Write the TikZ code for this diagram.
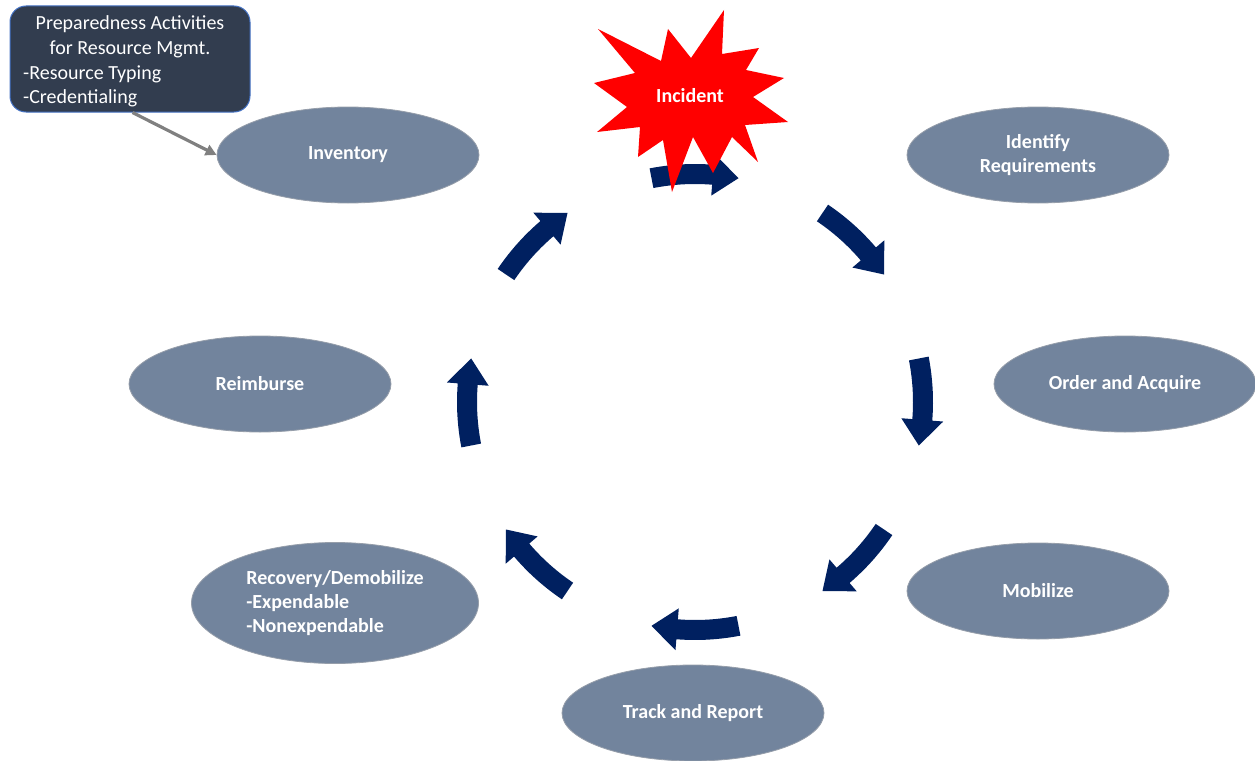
\documentclass[tikz,border=0pt]{standalone}
\usepackage{fontspec}
\setmainfont{Carlito}
\usetikzlibrary{shapes.geometric,arrows.meta}
\definecolor{ellfill}{RGB}{114,132,157}
\definecolor{ellline}{RGB}{150,158,170}
\definecolor{navy}{RGB}{0,32,96}
\definecolor{boxfill}{RGB}{50,61,79}
\definecolor{boxline}{RGB}{68,114,196}
\definecolor{grayarr}{RGB}{128,128,128}
\definecolor{starred}{RGB}{255,0,0}
\begin{document}
\begin{tikzpicture}[x=1pt,y=-1pt,
  ell/.style={ellipse, fill=ellfill, draw=ellline, line width=0.8pt,
    minimum width=262pt, minimum height=96pt, inner sep=0pt, text=white,
    font=\bfseries\fontsize{20}{24}\selectfont},
  boxtext/.style={text=white, font=\fontsize{20}{24}\selectfont, inner sep=0pt},
  cycarrow/.style={fill=navy, draw=none},
  prepbox/.style={draw=boxline, fill=boxfill, rounded corners=16pt,
    minimum width=240pt, minimum height=106pt, line width=1pt},
  feed/.style={draw=grayarr, line width=3.2pt, -{Triangle[length=11pt,width=11pt]}},
]
\useasboundingbox (0,0) rectangle (1255,760);

% ellipses
\node[ell] (inv) at (348,155) {Inventory};
\node[ell, align=center] (idr) at (1038,155) {Identify\\Requirements};
\node[ell] (ord) at (1125,384) {Order and Acquire};
\node[ell] (mob) at (1038,591) {Mobilize};
\node[ell] (trk) at (693,713) {Track and Report};
\node[ell, minimum width=287pt, minimum height=121pt, align=left] (rec) at (335,603) {Recovery/Demobilize\\-Expendable\\-Nonexpendable};
\node[ell] (rei) at (260,384) {Reimburse};

% cycle arrows
\begin{scope}[shift={(695,402)}]
\foreach \p in {-90,-45,0,45,90,135,180,225}{
  \pgfmathsetmacro\a{\p-11}
  \pgfmathsetmacro\b{\p+11}
  \pgfmathsetmacro\c{\p+11-6.5}
  \fill[cycarrow] plot[domain=\a:\c, samples=12] (\x:238) -- (\c:249) -- (\b:228) -- (\c:207)
     -- plot[domain=\c:\a, samples=12] (\x:218) -- cycle;
}
\end{scope}

% incident star
\fill[starred] (598,29) -- (661,61) -- (668,29) -- (691,58) -- (724,10) -- (722,54)
  -- (759,48) -- (746,70) -- (784,78) -- (753,97) -- (788,122) -- (745,125)
  -- (758,162) -- (732,137) -- (713,173) -- (693,137) -- (672,192) -- (663,140)
  -- (638,157) -- (640,127) -- (597,132) -- (627,107) -- (594,83) -- (635,73) -- cycle;
\node[text=white, font=\bfseries\fontsize{20}{24}\selectfont] (inc) at (690,96) {Incident};

% preparedness box
\node[prepbox] (box) at (130,59) {};
\node[boxtext] (bt1) at (130,24) {Preparedness Activities};
\node[boxtext] (bt2) at (130,49) {for Resource Mgmt.};
\node[boxtext, anchor=west] (bt3) at (23,74) {-Resource Typing};
\node[boxtext, anchor=west] (bt4) at (23,98) {-Credentialing};
\draw[feed] ([xshift=123pt]box.south west) -- (inv.west);
\end{tikzpicture}
\end{document}
